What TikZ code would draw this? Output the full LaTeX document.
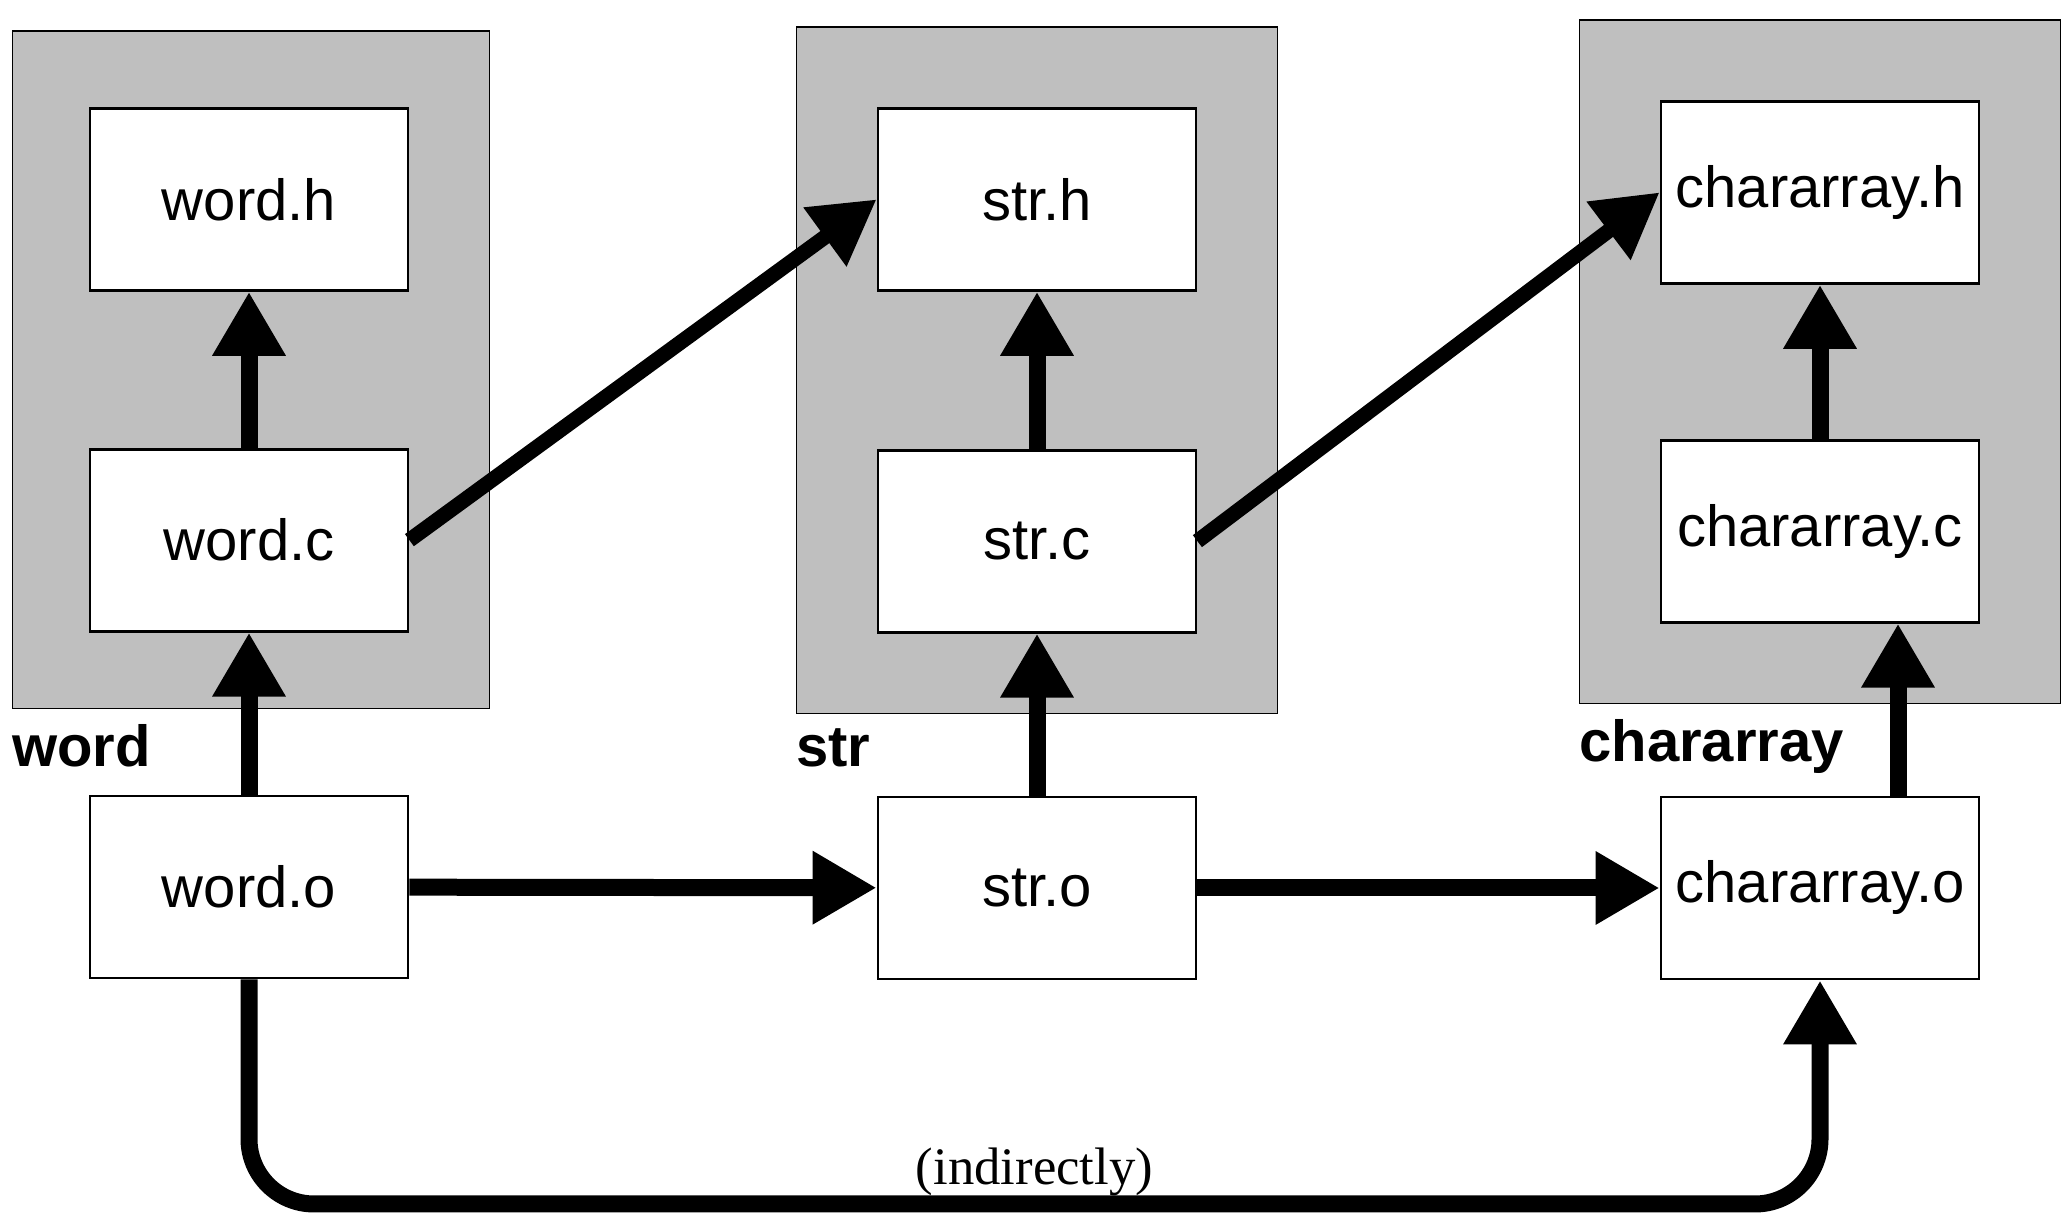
\documentclass[tikz,border=0pt]{standalone}
\usepackage{fontspec}
\setmainfont{Liberation Serif}
\setsansfont{Liberation Sans}
\usetikzlibrary{arrows.meta, positioning, fit, backgrounds}

\begin{document}
\begin{tikzpicture}[
        node distance=1.62cm,
        file/.style={rectangle, draw, line width=0.8pt, fill=white, minimum width=3.18cm, minimum height=1.82cm, inner sep=0pt, font=\sffamily\fontsize{16.5}{20}\selectfont},
        module/.style={rectangle, draw, line width=0.5pt, fill=black!25, inner sep=0.8cm},
        modname/.style={inner sep=0pt, font=\sffamily\bfseries\fontsize{16.5}{20}\selectfont},
        arrow/.style={-{Triangle[length=0.64cm, width=0.69cm]}, line width=0.17cm},
        note/.style={font=\rmfamily\fontsize{15}{18}\selectfont, inner sep=0.5pt}
    ]
        \useasboundingbox (0,0) rectangle (20.70,12.13);
        \node[file] (wordo) at (2.49,3.26) {word.o};
        \node[file, above=of wordo] (wordc) {word.c};
        \node[file, above=1.56cm of wordc] (wordh) {word.h};
        \node[file] (stro) at (10.37,3.25) {str.o};
        \node[file, above=of stro] (strc) {str.c};
        \node[file, above=1.57cm of strc] (strh) {str.h};
        \node[file] (charo) at (18.20,3.25) {chararray.o};
        \node[file, above=1.72cm of charo] (charc) {chararray.c};
        \node[file, above=1.54cm of charc] (charh) {chararray.h};
        % module frames
        \begin{scope}[on background layer]
            \node[module, inner xsep=0.78cm, inner ysep=0.76cm, xshift=0.02cm, fit=(wordh)(wordc)] (wordmod) {};
            \node[module, fit=(strh)(strc)] (strmod) {};
            \node[module, fit=(charh)(charc)] (charmod) {};
        \end{scope}
        \node[modname, below right=0.14cm and 0cm of wordmod.south west] (wordname) {word};
        \node[modname, below right=0.14cm and 0cm of strmod.south west] (strname) {str};
        \node[modname, below right=0.14cm and 0cm of charmod.south west] (charname) {chararray};
        \draw[arrow] (wordc) -- (wordh);
        \draw[arrow] (wordo) -- (wordc);
        \draw[arrow] (strc) -- (strh);
        \draw[arrow] (stro) -- (strc);
        \draw[arrow] (charc) -- (charh);
        \draw[arrow] ([xshift=0.78cm]charo.north) -- ([xshift=0.78cm]charc.south);
        \draw[arrow, line width=0.15cm] (wordc.east) -- (strh.west);
        \draw[arrow, line width=0.15cm] (strc.east) -- (charh.west);
        \draw[arrow] (wordo) -- (stro);
        \draw[arrow] (stro) -- (charo);
        \coordinate (loop) at (0,0.09);
        \draw[arrow, rounded corners=0.65cm] (wordo.south) -- (wordo.south |- loop) -- node[above, note, yshift=-0.02cm] {(indirectly)} (charo.south |- loop) -- (charo.south);
    \end{tikzpicture}
\end{document}
